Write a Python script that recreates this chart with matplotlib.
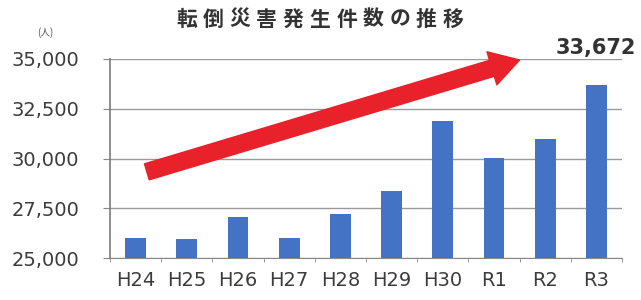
import matplotlib
matplotlib.use("Agg")
import matplotlib.pyplot as plt
import numpy as np

categories = ["H24", "H25", "H26", "H27", "H28", "H29", "H30", "R1", "R2", "R3"]
values = [26020, 25930, 27070, 25990, 27190, 28360, 31870, 30010, 30980, 33672]
y_ticks = [25000, 27500, 30000, 32500, 35000]
title = "転倒災害発生件数の推移"
unit_label = "(人)"
highlight_label = "33,672"
arrow_start = (0.22, 29330)
arrow_end = (7.5, 34950)

fig = plt.figure(figsize=(6.41, 3.0), dpi=100)
ax = fig.add_axes([110/641, 1-258/300, (622-110)/641, (258-59)/300])

x = np.arange(len(categories))
ax.bar(x, values, width=0.41, color="#4472C4", zorder=3)
ax.set_xlim(-0.5, len(categories) - 0.5)
ax.set_ylim(y_ticks[0], y_ticks[-1])
ax.set_yticks(y_ticks)
ax.set_yticklabels([f"{v:,}" for v in y_ticks])
ax.set_xticks(x)
ax.set_xticklabels(categories)
ax.set_xticks(np.arange(-0.5, len(categories), 1.0), minor=True)

ax.grid(axis="y", color="#9a9a9a", linewidth=1.0, zorder=0)
for s in ["top", "right"]:
    ax.spines[s].set_visible(False)
ax.spines["left"].set_color("#7a7a7a")
ax.spines["bottom"].set_color("#8a8a8a")
ax.spines["left"].set_linewidth(1.2)

ax.tick_params(axis="y", length=5, color="#8a8a8a", pad=17, labelsize=14, labelcolor="#3c3c3c")
ax.tick_params(axis="x", which="major", length=0, pad=9, labelsize=14, labelcolor="#3c3c3c")
ax.tick_params(axis="x", which="minor", length=3, color="#8a8a8a", direction="out")

ax.annotate("", xy=arrow_end, xytext=arrow_start, xycoords="data",
            arrowprops=dict(arrowstyle="simple,head_length=1.3,head_width=1.55,tail_width=0.75",
                            color="#e8212a", mutation_scale=16, shrinkA=0, shrinkB=0),
            annotation_clip=False, zorder=4)

# title with letter spacing
pitch = 26.6 / 641
start = 187 / 641
for i, ch in enumerate(title):
    fig.text(start + i * pitch, 1 - 19/300, ch, ha="center", va="center", fontsize=15,
             fontweight="bold", color="#333333", family=["Noto Sans CJK JP", "DejaVu Sans"])

fig.text(45/641, 1 - 33/300, unit_label, ha="center", va="center", fontsize=7,
         color="#555555", family=["Noto Sans CJK JP", "DejaVu Sans"])
fig.text(596/641, 1 - 48/300, highlight_label, ha="center", va="center", fontsize=15,
         fontweight="bold", color="#333333")

fig.savefig("out.png", dpi=100)
